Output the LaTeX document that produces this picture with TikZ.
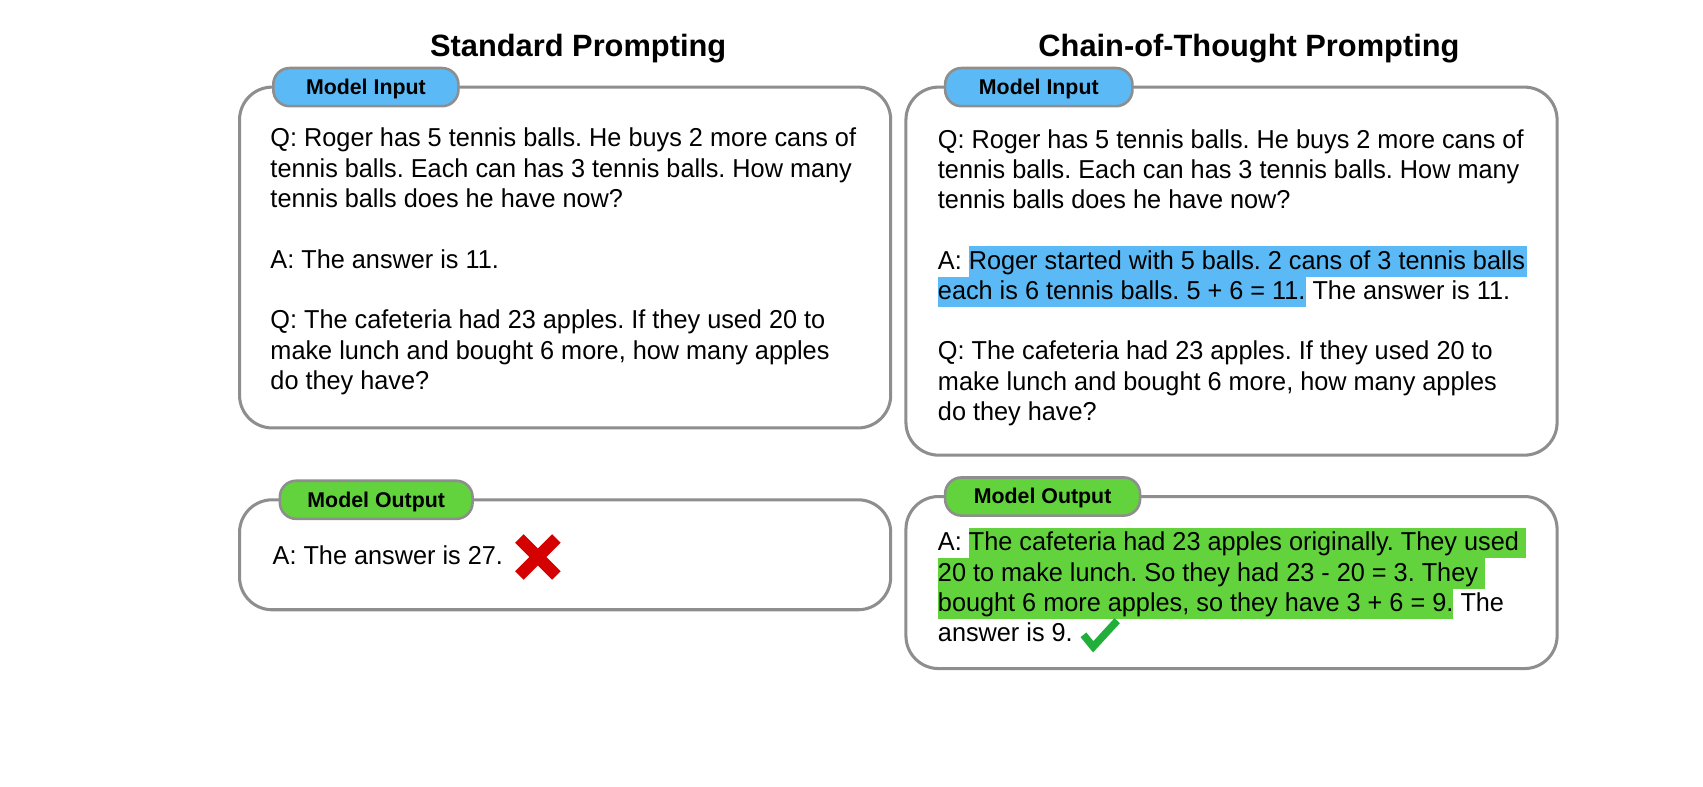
\documentclass[tikz,border=0pt]{standalone}
\usepackage{fontspec}
\setmainfont{Liberation Sans}
\newfontfamily\bodyfam[FakeStretch=0.975]{Liberation Sans}
\frenchspacing
\definecolor{hlblue}{HTML}{5BBAF6}
\definecolor{hlgreen}{HTML}{62D33D}
\definecolor{tagblue}{HTML}{5BBAF6}
\definecolor{taggreen}{HTML}{62D33D}
\definecolor{boxgray}{HTML}{8E8E8E}
\definecolor{xred}{HTML}{D50000}
\definecolor{ckgreen}{HTML}{22AE3A}
\newcommand\bodyfont{\bodyfam\fontsize{11.9pt}{13.9pt}\selectfont\frenchspacing}
\newcommand\hlb[1]{\begingroup\setlength{\fboxsep}{0pt}\colorbox{hlblue}{\rule[-3.4pt]{0pt}{13.9pt}#1}\endgroup}
\newcommand\hlg[1]{\begingroup\setlength{\fboxsep}{0pt}\colorbox{hlgreen}{\rule[-3.4pt]{0pt}{13.9pt}#1}\endgroup}
\tikzset{
  panel/.style={draw=boxgray, line width=1.4pt, rounded corners=15pt, fill=white, minimum width=299pt, inner sep=0pt},
  tag/.style={draw=boxgray, line width=1.2pt, rounded corners=7.5pt, minimum height=17.5pt, inner sep=0pt, font=\bfseries\fontsize{9.8pt}{11pt}\selectfont, text height=7.2pt, text depth=0.4pt},
  line/.style={anchor=base west, inner sep=0pt, font=\bodyfont},
  title/.style={anchor=base, inner sep=0pt, font=\bfseries\fontsize{14.15pt}{17pt}\selectfont}
}
\begin{document}
\begin{tikzpicture}[x=0.5pt, y=-0.5pt]
\useasboundingbox (0,0) rectangle (1564,722);
% titles
\node[title] (t1) at (531,52) {Standard Prompting};
\node[title] (t2) at (1147,52) {Chain-of-Thought Prompting};
% panels
\node[panel, minimum height=156.5pt] (inL) at (519,236.5) {};
\node[panel, minimum height=169pt] (inR) at (1131,249) {};
\node[panel, minimum height=50.5pt] (outL) at (519,509.5) {};
\node[panel, minimum height=79pt] (outR) at (1131,535) {};
% tags
\node[tag, fill=tagblue, minimum width=85pt] (tagIL) at (336,80) {Model Input};
\node[tag, fill=tagblue, minimum width=86pt] (tagIR) at (954,80) {Model Input};
\node[tag, fill=taggreen, minimum width=88.5pt] (tagOL) at (345.5,459) {Model Output};
\node[tag, fill=taggreen, minimum width=89.5pt] (tagOR) at (957.5,456) {Model Output};
% left input text
\node[line] (l1) at (248,135) {Q: Roger has 5 tennis balls. He buys 2 more cans of};
\node[line] (l2) at (248,162.8) {tennis balls. Each can has 3 tennis balls. How many};
\node[line] (l3) at (248,190.6) {tennis balls does he have now?};
\node[line] (l4) at (248,246.2) {A: The answer is 11.};
\node[line] (l5) at (248,302) {Q: The cafeteria had 23 apples. If they used 20 to};
\node[line] (l6) at (248,329.8) {make lunch and bought 6 more, how many apples};
\node[line] (l7) at (248,357.6) {do they have?};
% right input text
\node[line] (r1) at (861,136) {Q: Roger has 5 tennis balls. He buys 2 more cans of};
\node[line] (r2) at (861,163.8) {tennis balls. Each can has 3 tennis balls. How many};
\node[line] (r3) at (861,191.6) {tennis balls does he have now?};
\node[line] (r4) at (861,247.2) {A: \hlb{Roger started with 5 balls. 2 cans of 3 tennis balls\kern1pt}};
\node[line] (r5) at (861,275) {\hlb{each is 6 tennis balls. 5 + 6 = 11.} The answer is 11.};
\node[line] (r6) at (861,330.6) {Q: The cafeteria had 23 apples. If they used 20 to};
\node[line] (r7) at (861,358.4) {make lunch and bought 6 more, how many apples};
\node[line] (r8) at (861,386.2) {do they have?};
% left output
\node[line] (lo) at (250,518) {A: The answer is 27.};
\coordinate (xc) at (494,511.5);
\draw[xred, line width=5.5pt] ([shift={(-17,-17)}]xc) -- ([shift={(17,17)}]xc);
\draw[xred, line width=5.5pt] ([shift={(17,-17)}]xc) -- ([shift={(-17,17)}]xc);
% right output
\node[line] (ro1) at (861,506) {A: \hlg{The cafeteria had 23 apples originally. They used\ }};
\node[line] (ro2) at (861,533.8) {\hlg{20 to make lunch. So they had 23 - 20 = 3. They\ }};
\node[line] (ro3) at (861,561.6) {\hlg{bought 6 more apples, so they have 3 + 6 = 9.} The};
\node[line] (ro4) at (861,589.4) {answer is 9.};
\coordinate (ck1) at (995,583);
\coordinate (ck2) at (1004,594);
\coordinate (ck3) at (1026,570);
\draw[ckgreen, line width=3.4pt, line join=miter] (ck1) -- (ck2) -- (ck3);
\end{tikzpicture}
\end{document}
